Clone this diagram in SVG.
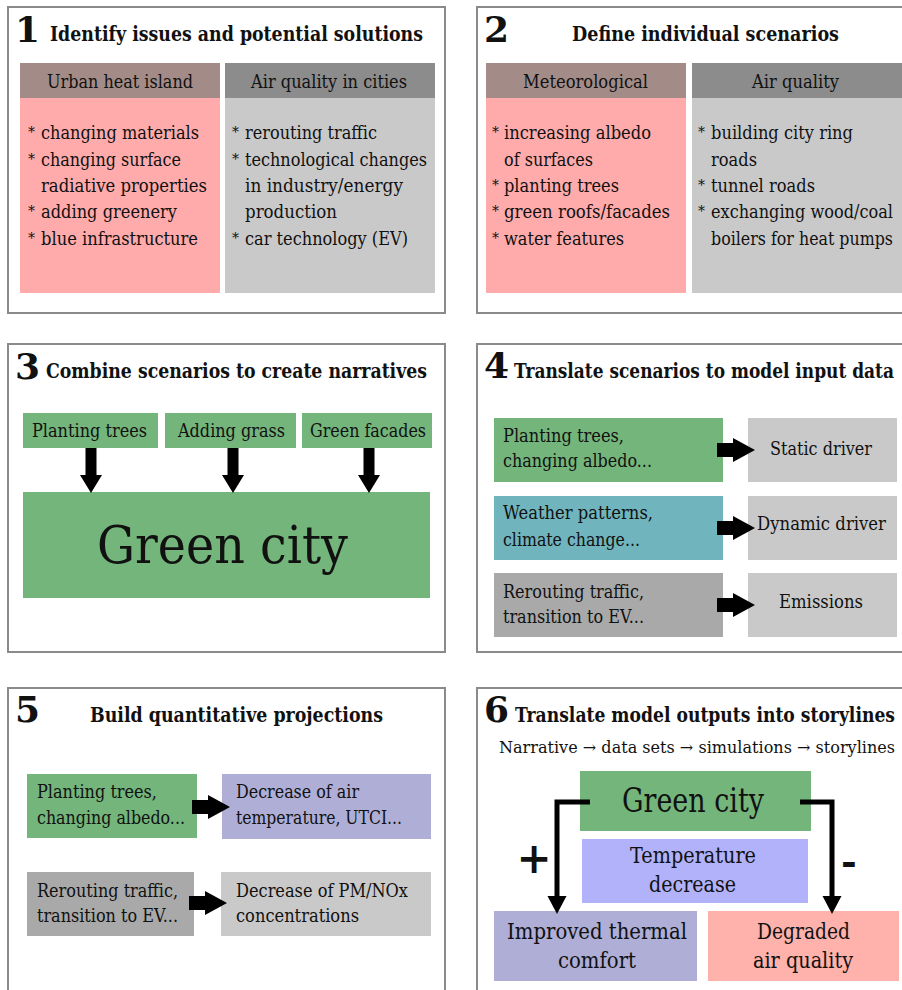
<svg xmlns="http://www.w3.org/2000/svg" xmlns:xlink="http://www.w3.org/1999/xlink" width="902" height="990" viewBox="0 0 902 990">
<style>
text{font-family:"DejaVu Serif","Liberation Serif",serif;fill:#111;}
.num{font-size:36px;font-weight:bold;}
.ttl{font-size:19.5px;font-weight:bold;}
.t{font-size:18.5px;}
.ast{font-size:14px;}
.big{font-size:22px;}
.panel{fill:#fff;stroke:#8a8a8a;stroke-width:2;}
.green{fill:#74b57b;}
.hpink{fill:#a38c87;}
.pink{fill:#ffabab;}
.hgray{fill:#8c8c8c;}
.lgray{fill:#c9c9c9;}
.teal{fill:#70b4bd;}
.mgray{fill:#a9a9a9;}
.purple{fill:#aeaed6;}
.lav{fill:#b2b2fa;}
.salmon{fill:#ffb2ab;}
.conn{fill:none;stroke:#000;stroke-width:5;}
</style>
<defs>
<path id="darrow" d="M-5.5,0 V27 H-11 L0,45 L11,27 H5.5 V0 Z" fill="#000"/>
<path id="harrow" d="M0,-7 H16 V-12 L38,0 L16,12 V7 H0 Z" fill="#000"/>
<marker id="ah" markerUnits="userSpaceOnUse" markerWidth="20" markerHeight="20" refX="2" refY="9.5" orient="auto">
<path d="M0,0 L18,9.5 L0,19 Z" fill="#000"/>
</marker>
</defs>
<rect width="902" height="990" fill="#fff"/>

<g id="panel1">
<rect class="panel" x="8" y="7" width="437" height="306"/>
<text class="num" x="15" y="42">1</text>
<text class="ttl" x="50" y="41" textLength="373" lengthAdjust="spacingAndGlyphs">Identify issues and potential solutions</text>
<rect class="hpink" x="20" y="63" width="200" height="35"/>
<rect class="pink" x="20" y="98" width="200" height="195"/>
<rect class="hgray" x="225" y="63" width="210" height="35"/>
<rect class="lgray" x="225" y="98" width="210" height="195"/>
<text class="t" x="47" y="88" textLength="146" lengthAdjust="spacingAndGlyphs">Urban heat island</text>
<text class="t" x="251" y="88" textLength="156" lengthAdjust="spacingAndGlyphs">Air quality in cities</text>
<text class="ast" x="28" y="137">*</text>
<text class="t" x="41" y="139" textLength="158" lengthAdjust="spacingAndGlyphs">changing materials</text>
<text class="ast" x="28" y="164">*</text>
<text class="t" x="41" y="166" textLength="140" lengthAdjust="spacingAndGlyphs">changing surface</text>
<text class="t" x="41" y="192" textLength="166" lengthAdjust="spacingAndGlyphs">radiative properties</text>
<text class="ast" x="28" y="216">*</text>
<text class="t" x="41" y="218" textLength="136" lengthAdjust="spacingAndGlyphs">adding greenery</text>
<text class="ast" x="28" y="243">*</text>
<text class="t" x="41" y="245" textLength="157" lengthAdjust="spacingAndGlyphs">blue infrastructure</text>
<text class="ast" x="232" y="137">*</text>
<text class="t" x="245" y="139" textLength="132" lengthAdjust="spacingAndGlyphs">rerouting traffic</text>
<text class="ast" x="232" y="164">*</text>
<text class="t" x="245" y="166" textLength="182" lengthAdjust="spacingAndGlyphs">technological changes</text>
<text class="t" x="245" y="192" textLength="158" lengthAdjust="spacingAndGlyphs">in industry/energy</text>
<text class="t" x="245" y="218" textLength="92" lengthAdjust="spacingAndGlyphs">production</text>
<text class="ast" x="232" y="243">*</text>
<text class="t" x="245" y="245" textLength="163" lengthAdjust="spacingAndGlyphs">car technology (EV)</text>
</g>

<g id="panel2">
<rect class="panel" x="477" y="7" width="450" height="306"/>
<text class="num" x="484" y="42">2</text>
<text class="ttl" x="572" y="41" textLength="267" lengthAdjust="spacingAndGlyphs">Define individual scenarios</text>
<rect class="hpink" x="486" y="63" width="200" height="35"/>
<rect class="pink" x="486" y="98" width="200" height="195"/>
<rect class="hgray" x="692" y="63" width="220" height="35"/>
<rect class="lgray" x="692" y="98" width="220" height="195"/>
<text class="t" x="523" y="88" textLength="125" lengthAdjust="spacingAndGlyphs">Meteorological</text>
<text class="t" x="752" y="88" textLength="87" lengthAdjust="spacingAndGlyphs">Air quality</text>
<text class="ast" x="492" y="137">*</text>
<text class="t" x="504" y="139" textLength="147" lengthAdjust="spacingAndGlyphs">increasing albedo</text>
<text class="t" x="504" y="166" textLength="89" lengthAdjust="spacingAndGlyphs">of surfaces</text>
<text class="ast" x="492" y="190">*</text>
<text class="t" x="504" y="192" textLength="115" lengthAdjust="spacingAndGlyphs">planting trees</text>
<text class="ast" x="492" y="216">*</text>
<text class="t" x="504" y="218" textLength="166" lengthAdjust="spacingAndGlyphs">green roofs/facades</text>
<text class="ast" x="492" y="243">*</text>
<text class="t" x="504" y="245" textLength="120" lengthAdjust="spacingAndGlyphs">water features</text>
<text class="ast" x="698" y="137">*</text>
<text class="t" x="711" y="139" textLength="142" lengthAdjust="spacingAndGlyphs">building city ring</text>
<text class="t" x="711" y="166" textLength="46" lengthAdjust="spacingAndGlyphs">roads</text>
<text class="ast" x="698" y="190">*</text>
<text class="t" x="711" y="192" textLength="104" lengthAdjust="spacingAndGlyphs">tunnel roads</text>
<text class="ast" x="698" y="216">*</text>
<text class="t" x="711" y="218" textLength="182" lengthAdjust="spacingAndGlyphs">exchanging wood/coal</text>
<text class="t" x="711" y="245" textLength="182" lengthAdjust="spacingAndGlyphs">boilers for heat pumps</text>
</g>

<g id="panel3">
<rect class="panel" x="8" y="344" width="437" height="308"/>
<text class="num" x="15" y="379">3</text>
<text class="ttl" x="46" y="378" textLength="381" lengthAdjust="spacingAndGlyphs">Combine scenarios to create narratives</text>
<g id="p3-trees"><rect class="green" x="23" y="413" width="135" height="35"/>
<text class="t" x="32" y="437" textLength="115" lengthAdjust="spacingAndGlyphs">Planting trees</text></g>
<g id="p3-grass"><rect class="green" x="165" y="413" width="131" height="35"/>
<text class="t" x="178" y="437" textLength="107" lengthAdjust="spacingAndGlyphs">Adding grass</text></g>
<g id="p3-facades"><rect class="green" x="302" y="413" width="130" height="35"/>
<text class="t" x="310" y="437" textLength="116" lengthAdjust="spacingAndGlyphs">Green facades</text></g>
<g id="p3-city"><rect class="green" x="23" y="492" width="407" height="106"/>
<text x="97" y="563" font-size="53" textLength="251" lengthAdjust="spacingAndGlyphs">Green city</text></g>
</g>

<g id="panel4">
<rect class="panel" x="477" y="344" width="450" height="308"/>
<text class="num" x="484" y="378">4</text>
<text class="ttl" x="514" y="378" textLength="380" lengthAdjust="spacingAndGlyphs">Translate scenarios to model input data</text>
<g id="p4-r1a"><rect class="green" x="494" y="418" width="229" height="64"/>
<text class="t" x="503" y="442" textLength="121" lengthAdjust="spacingAndGlyphs">Planting trees,</text>
<text class="t" x="503" y="467" textLength="149" lengthAdjust="spacingAndGlyphs">changing albedo...</text></g>
<g id="p4-r2a"><rect class="teal" x="494" y="496" width="229" height="64"/>
<text class="t" x="503" y="519" textLength="150" lengthAdjust="spacingAndGlyphs">Weather patterns,</text>
<text class="t" x="503" y="546" textLength="137" lengthAdjust="spacingAndGlyphs">climate change...</text></g>
<g id="p4-r3a"><rect class="mgray" x="494" y="573" width="229" height="64"/>
<text class="t" x="503" y="598" textLength="141" lengthAdjust="spacingAndGlyphs">Rerouting traffic,</text>
<text class="t" x="503" y="623" textLength="141" lengthAdjust="spacingAndGlyphs">transition to EV...</text></g>
<g id="p4-r1b"><rect class="lgray" x="748" y="418" width="149" height="64"/>
<text class="t" x="770" y="455" textLength="102" lengthAdjust="spacingAndGlyphs">Static driver</text></g>
<g id="p4-r2b"><rect class="lgray" x="748" y="496" width="149" height="64"/>
<text class="t" x="757" y="530" textLength="129" lengthAdjust="spacingAndGlyphs">Dynamic driver</text></g>
<g id="p4-r3b"><rect class="lgray" x="748" y="573" width="149" height="64"/>
<text class="t" x="779" y="608" textLength="84" lengthAdjust="spacingAndGlyphs">Emissions</text></g>
</g>

<g id="panel5">
<rect class="panel" x="8" y="688" width="437" height="320"/>
<text class="num" x="15" y="722">5</text>
<text class="ttl" x="90" y="722" textLength="293" lengthAdjust="spacingAndGlyphs">Build quantitative projections</text>
<g id="p5-r1a"><rect class="green" x="27" y="774" width="170" height="64"/>
<text class="t" x="37" y="798" textLength="120" lengthAdjust="spacingAndGlyphs">Planting trees,</text>
<text class="t" x="37" y="824" textLength="148" lengthAdjust="spacingAndGlyphs">changing albedo...</text></g>
<g id="p5-r1b"><rect class="purple" x="222" y="774" width="209" height="65"/>
<text class="t" x="236" y="798" textLength="123" lengthAdjust="spacingAndGlyphs">Decrease of air</text>
<text class="t" x="236" y="824" textLength="166" lengthAdjust="spacingAndGlyphs">temperature, UTCI...</text></g>
<g id="p5-r2a"><rect class="mgray" x="27" y="872" width="167" height="64"/>
<text class="t" x="37" y="897" textLength="141" lengthAdjust="spacingAndGlyphs">Rerouting traffic,</text>
<text class="t" x="37" y="922" textLength="141" lengthAdjust="spacingAndGlyphs">transition to EV...</text></g>
<g id="p5-r2b"><rect class="lgray" x="221" y="872" width="210" height="64"/>
<text class="t" x="236" y="897" textLength="172" lengthAdjust="spacingAndGlyphs">Decrease of PM/NOx</text>
<text class="t" x="236" y="922" textLength="123" lengthAdjust="spacingAndGlyphs">concentrations</text></g>
</g>

<g id="panel6">
<rect class="panel" x="477" y="688" width="450" height="320"/>
<text class="num" x="484" y="722">6</text>
<text class="ttl" x="515" y="722" textLength="380" lengthAdjust="spacingAndGlyphs">Translate model outputs into storylines</text>
<text x="499" y="753" font-size="16.5" textLength="396" lengthAdjust="spacingAndGlyphs">Narrative → data sets → simulations → storylines</text>
<g id="p6-city"><rect class="green" x="580" y="771" width="231" height="60"/>
<text x="622" y="812" font-size="33" textLength="142" lengthAdjust="spacingAndGlyphs">Green city</text></g>
<g id="p6-temp"><rect class="lav" x="582" y="839" width="226" height="64"/>
<text class="big" x="630" y="863" textLength="126" lengthAdjust="spacingAndGlyphs">Temperature</text>
<text class="big" x="649" y="892" textLength="87" lengthAdjust="spacingAndGlyphs">decrease</text></g>
<g id="p6-comfort"><rect class="purple" x="494" y="911" width="203" height="70"/>
<text class="big" x="507" y="939" textLength="180" lengthAdjust="spacingAndGlyphs">Improved thermal</text>
<text class="big" x="558" y="968" textLength="78" lengthAdjust="spacingAndGlyphs">comfort</text></g>
<g id="p6-air"><rect class="salmon" x="708" y="911" width="191" height="70"/>
<text class="big" x="757" y="939" textLength="93" lengthAdjust="spacingAndGlyphs">Degraded</text>
<text class="big" x="753" y="968" textLength="100" lengthAdjust="spacingAndGlyphs">air quality</text></g>
<text x="534" y="873" font-size="42" font-weight="bold" text-anchor="middle">+</text>
<text x="849" y="875" font-size="38" font-weight="bold" text-anchor="middle">-</text>
</g>

<g id="connectors">
<use xlink:href="#darrow" x="91" y="448"/>
<use xlink:href="#darrow" x="233" y="448"/>
<use xlink:href="#darrow" x="369" y="448"/>
<use xlink:href="#harrow" x="717" y="450"/>
<use xlink:href="#harrow" x="717" y="528"/>
<use xlink:href="#harrow" x="717" y="605"/>
<use xlink:href="#harrow" x="192" y="807"/>
<use xlink:href="#harrow" x="189" y="903"/>
<path class="conn" d="M590,802 H557 V898" marker-end="url(#ah)"/>
<path class="conn" d="M800,802 H832 V898" marker-end="url(#ah)"/>
</g>
</svg>
